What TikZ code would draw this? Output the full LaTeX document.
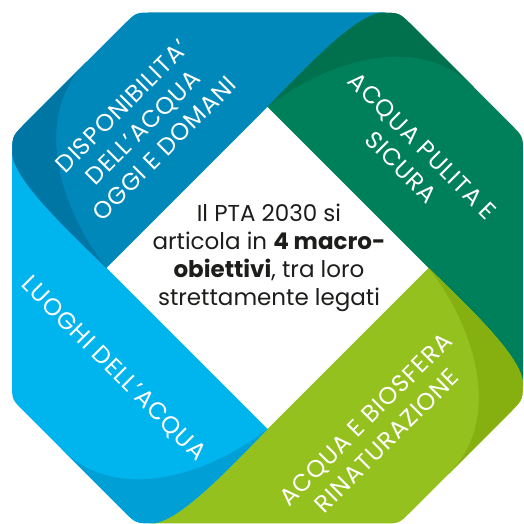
\documentclass[tikz,border=0pt]{standalone}
\usepackage{fontspec}
\setmainfont{Poppins}
\definecolor{cgreen}{HTML}{00805A}
\definecolor{cgreendk}{HTML}{00704D}
\definecolor{cblue}{HTML}{0088BB}
\definecolor{cbluedk}{HTML}{0076A5}
\definecolor{clight}{HTML}{00B4EE}
\definecolor{clightdk}{HTML}{009FD6}
\definecolor{clime}{HTML}{95C11F}
\definecolor{climedk}{HTML}{85B010}
\definecolor{ctext}{HTML}{1D1D1B}
\begin{document}
\begin{tikzpicture}[x=1pt,y=1pt,
  bandpath/.style={insert path={(0,161) -- (161,0) -- (255.5,-118) -- (255.5,115.5) .. controls (255.5,131.5) .. (244.2,142.8) -- (144.5,242.5) .. controls (131.5,255.5) .. (112,255) .. controls (85,250) and (38,200) .. (0,161) -- cycle}},
  cappath/.style={insert path={(0,161) -- (206,181) -- (144.5,242.5) .. controls (131.5,255.5) .. (112,255) .. controls (85,250) and (38,200) .. (0,161) -- cycle}},
  foldpath/.style={insert path={(0,161) .. controls (55,205) and (150,238) .. (206,181) -- (144.5,242.5) .. controls (131.5,255.5) .. (112,255) .. controls (85,250) and (38,200) .. (0,161) -- cycle}},
  bandtext/.style={text=white, align=center, inner sep=0pt, font=\fontsize{24}{30}\selectfont\addfontfeatures{LetterSpace=4}},
  centertext/.style={text=ctext, align=center, inner sep=0pt, font=\fontsize{23}{28}\selectfont}
]
\fill[white] (0,0) rectangle (523,524);
\useasboundingbox (0,0) rectangle (523,524);
\foreach \ang/\col in {0/cgreen,90/cblue,180/clight,270/clime}{
  \begin{scope}[shift={(267.5,256)},rotate=\ang]
    \fill[\col,bandpath];
  \end{scope}
}
\foreach \ang/\col/\dk in {0/cgreen/cgreendk,90/cblue/cbluedk,180/clight/clightdk,270/clime/climedk}{
  \begin{scope}[shift={(267.5,256)},rotate=\ang]
    \fill[\col,cappath];
    \fill[\dk,foldpath];
  \end{scope}
}
\node[bandtext,rotate=45] (tblue) at (143,396.5) {DISPONIBILITA'\\DELL'ACQUA\\OGGI E DOMANI};
\node[bandtext,rotate=-45] (tgreen) at (412,367.5) {ACQUA PULITA E\\SICURA};
\node[bandtext,rotate=-45] (tlight) at (113.5,155) {LUOGHI DELL'ACQUA};
\node[bandtext,rotate=45] (tlime) at (376,94) {ACQUA E BIOSFERA\\RINATURAZIONE};
\node[centertext] (tcenter) at (269,266) {Il PTA 2030 si\\articola in \textbf{4 macro-}\\\textbf{obiettivi}, tra loro\\strettamente legati};
\end{tikzpicture}
\end{document}
